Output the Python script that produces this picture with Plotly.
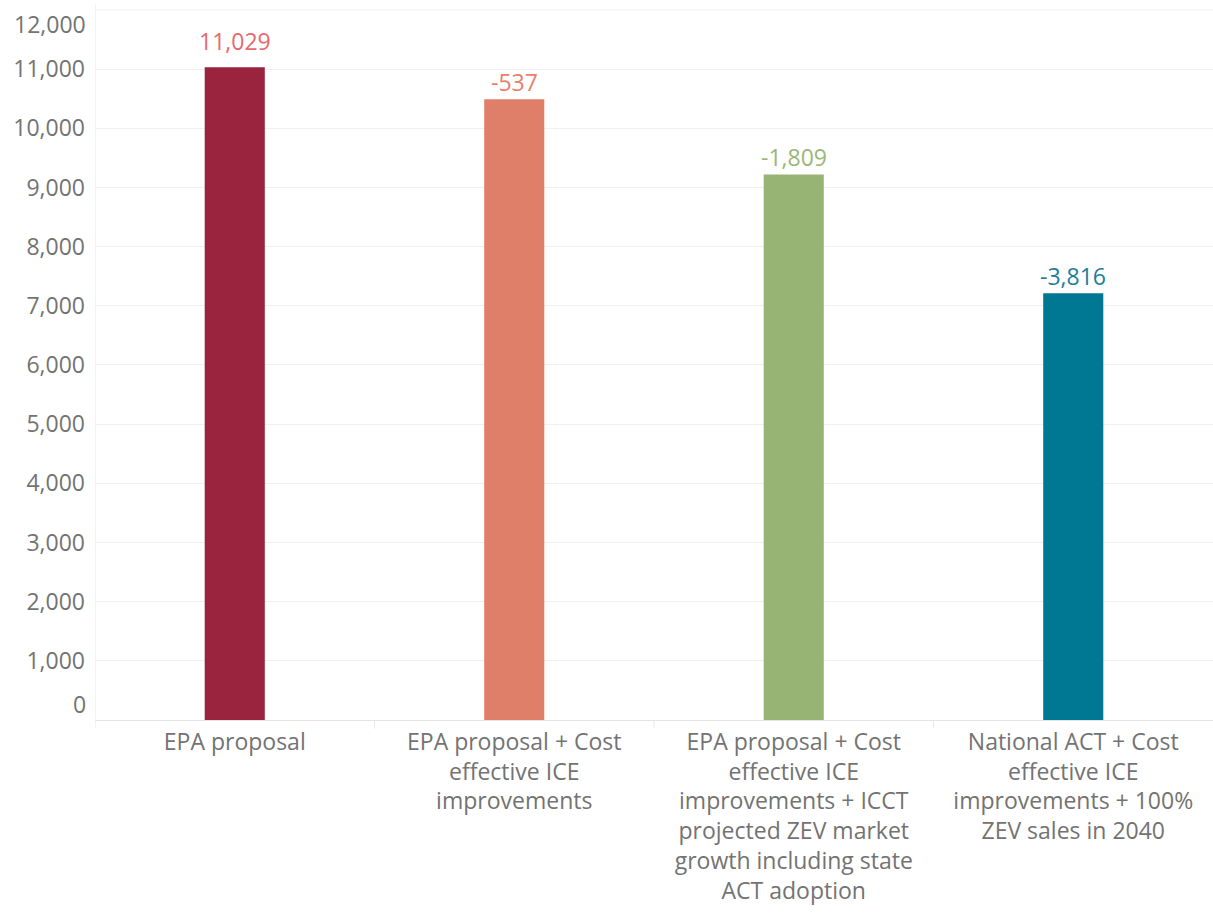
import plotly.graph_objects as go

categories = [
    "EPA proposal",
    "EPA proposal + Cost<br>effective ICE<br>improvements",
    "EPA proposal + Cost<br>effective ICE<br>improvements + ICCT<br>projected ZEV market<br>growth including state<br>ACT adoption",
    "National ACT + Cost<br>effective ICE<br>improvements + 100%<br>ZEV sales in 2040",
]
# label values: baseline for the first, difference from baseline for the others
label_values = [11029, -537, -1809, -3816]
bar_colors = ["#9a233e", "#e07f69", "#98b475", "#007893"]
label_colors = ["#e8686e", "#e8806a", "#9ab775", "#1c8099"]
y_ticks = list(range(0, 12001, 1000))

base = label_values[0]
heights = [base] + [base + d for d in label_values[1:]]
texts = [f"{v:,}" for v in label_values]
xpos = list(range(len(categories)))

FONT = "Open Sans"
GRAY = "#737373"
FS = 23

fig = go.Figure()
fig.add_trace(go.Bar(
    x=xpos, y=heights, width=0.215,
    marker=dict(color=bar_colors, line=dict(width=0)),
    hoverinfo="skip",
))

# value labels above bars (baseline label sits a little higher, as in the original)
for i, (xi, h, t, c) in enumerate(zip(xpos, heights, texts, label_colors)):
    fig.add_annotation(x=xi, y=h, xref="x", yref="y", text=t, showarrow=False,
                       yanchor="bottom", yshift=(8 if i == 0 else -1),
                       font=dict(family=FONT, size=FS, color=c))

inner_ticks = y_ticks[1:-1]
fig.update_layout(
    width=1213, height=916,
    margin=dict(l=95, r=0, t=4, b=196),
    paper_bgcolor="white", plot_bgcolor="white",
    showlegend=False,
    xaxis=dict(
        range=[-0.5, len(categories) - 0.5],
        tickvals=xpos, ticktext=categories,
        tickfont=dict(family=FONT, size=FS, color=GRAY),
        showgrid=False, zeroline=False,
        showline=True, linecolor="#e4e4e4", linewidth=1,
        ticks="", ticklabelstandoff=1,
    ),
    yaxis=dict(
        range=[0, 12100],
        tickvals=inner_ticks, ticktext=[f"{v:,}" for v in inner_ticks],
        tickfont=dict(family=FONT, size=FS, color=GRAY),
        showgrid=True, gridcolor="#f0f0f0", gridwidth=1,
        zeroline=False, showline=False, ticks="",
        ticklabelstandoff=9,
    ),
)

# end tick labels, nudged inside the axis like the original
fig.add_shape(type="line", xref="paper", yref="y", x0=0, x1=1,
              y0=y_ticks[-1], y1=y_ticks[-1], line=dict(color="#f0f0f0", width=1), layer="below")
fig.add_annotation(xref="paper", yref="y", x=0, y=y_ticks[-1], xanchor="right", yanchor="top",
                   xshift=-7, yshift=4, showarrow=False, text=f"{y_ticks[-1]:,}",
                   font=dict(family=FONT, size=FS, color=GRAY))
fig.add_annotation(xref="paper", yref="y", x=0, y=y_ticks[0], xanchor="right", yanchor="bottom",
                   xshift=-7, yshift=-2, showarrow=False, text=f"{y_ticks[0]:,}",
                   font=dict(family=FONT, size=FS, color=GRAY))

# category dividers and y axis line (Tableau-style)
for b in [-0.5] + [i + 0.5 for i in range(len(categories) - 1)]:
    fig.add_shape(type="line", xref="x", yref="paper", x0=b, x1=b,
                  y0=-0.012, y1=(0 if b > -0.5 else 1.0),
                  line=dict(color="#e8e8e8", width=1))

fig.write_html("out.html")
